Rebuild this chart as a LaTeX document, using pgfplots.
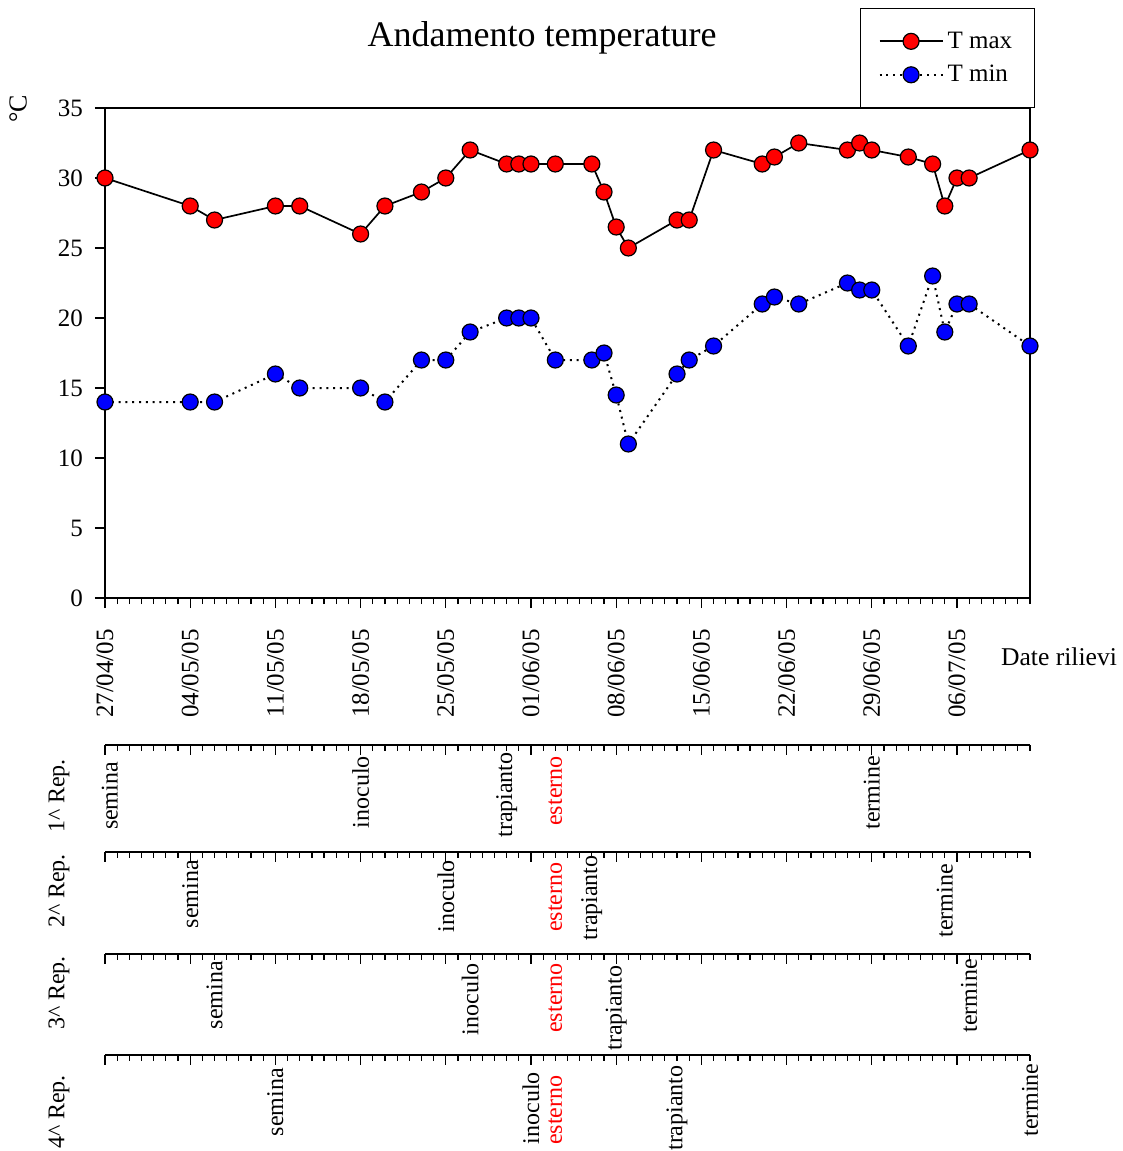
\documentclass[border=0pt]{standalone}
\usepackage{fontspec}
\setmainfont{Liberation Serif}
\usepackage{pgfplots}
\usepackage{pgfplotstable}
\pgfplotsset{compat=1.18}
\newcommand{\fs}[1]{\fontsize{#1}{#1}\selectfont}

\pgfplotstableread{
x y
0 30
7 28
9 27
14 28
16 28
21 26
23 28
26 29
28 30
30 32
33 31
34 31
35 31
37 31
40 31
41 29
42 26.5
43 25
47 27
48 27
50 32
54 31
55 31.5
57 32.5
61 32
62 32.5
63 32
66 31.5
68 31
69 28
70 30
71 30
76 32
}\tmax

\pgfplotstableread{
x y
0 14
7 14
9 14
14 16
16 15
21 15
23 14
26 17
28 17
30 19
33 20
34 20
35 20
37 17
40 17
41 17.5
42 14.5
43 11
47 16
48 17
50 18
54 21
55 21.5
57 21
61 22.5
62 22
63 22
66 18
68 23
69 19
70 21
71 21
76 18
}\tmin

\pgfplotstableread{
x y lab
0.4 -51 semina
21 -47 inoculo
33 -50 trapianto
63 -48 termine
}\repA
\pgfplotstableread{
x y lab
7 -42 semina
28 -44 inoculo
40 -46 trapianto
69 -49 termine
}\repB
\pgfplotstableread{
x y lab
9 -41 semina
30 -45 inoculo
42 -54 trapianto
71 -42 termine
}\repC
\pgfplotstableread{
x y lab
14 -47 semina
35 -53 inoculo
47 -53 trapianto
76 -45 termine
}\repD

\begin{document}
\begin{tikzpicture}
\path[use as bounding box] (0,0) rectangle (561.5pt,-575.5pt);
\pgfplotsset{
  stripaxis/.style={
    scale only axis, width=462.5pt, height=50pt,
    xmin=0, xmax=76, ymin=-100, ymax=0,
    axis x line*=top, axis y line=none,
    xtick pos=right,
    xtick={0,7,...,70}, minor xtick={0,1,...,76},
    xticklabels={}, tick align=inside,
    major tick length=5pt, minor tick length=3pt,
    tick style={black, line width=0.6pt},
    axis line style={-, line width=0.75pt},
    clip=false,
  },
  lab/.style={draw=none, mark=none, nodes near coords, point meta=explicit symbolic,
    nodes near coords style={anchor=center, rotate=90, font=\fs{12}, text=#1}},
}

% main axis
\begin{axis}[
  at={(52.5pt,-299pt)}, anchor=south west,
  scale only axis, width=462.5pt, height=245pt,
  xmin=0, xmax=76, ymin=0, ymax=35,
  xtick={0,7,...,70},
  xticklabels={27/04/05,04/05/05,11/05/05,18/05/05,25/05/05,01/06/05,08/06/05,15/06/05,22/06/05,29/06/05,06/07/05},
  minor xtick={0,1,...,76},
  ytick={0,5,...,35},
  xtick pos=left, ytick pos=left,
  tick align=outside,
  major tick length=5pt, minor tick length=3pt,
  tick style={black, line width=0.6pt},
  axis line style={line width=0.9pt},
  /pgf/number format/assume math mode=true,
  xticklabel style={font=\fs{12.5}, yshift=-7pt, rotate=90, anchor=east},
  yticklabel style={font=\fs{12.5}, xshift=-2.5pt},
  clip=false,
  legend style={at={(0.8162,1.204)}, anchor=north west, draw=black, line width=0.6pt,
    font=\fs{12.5}, inner xsep=9pt, inner ysep=9.5pt, row sep=3pt,
    /tikz/every even column/.append style={column sep=4pt}},
  legend cell align=left,
  legend image code/.code={\draw[mark repeat=2, mark phase=2, #1] plot coordinates {(0pt,0pt) (15.75pt,0pt) (31.5pt,0pt)};},
]
\addplot[black, line width=0.85pt, mark=*, mark size=4pt,
  mark options={fill=red, draw=black, line width=0.6pt, solid}] table[x=x, y=y] {\tmax};
\addlegendentry{T max}
\addplot[black, line width=1pt, dash pattern=on 1pt off 2.4pt, mark=*, mark size=4pt,
  mark options={fill=blue, draw=black, line width=0.6pt, solid}] table[x=x, y=y] {\tmin};
\addlegendentry{T min}
\end{axis}

\node[font=\fs{18}] at (271pt,-19pt) {Andamento temperature};
\node[font=\fs{12.8}, anchor=west] at (497pt,-328.5pt) {Date rilievi};
\node[font=\fs{13}, rotate=90] at (9pt,-54.5pt) {°C};

% strips
\begin{axis}[stripaxis, at={(52.5pt,-372.5pt)}, anchor=north west]
\addplot[lab=black] table[x=x, y=y, meta=lab] {\repA};
\addplot[lab=red] coordinates {(37,-46) [esterno]};
\end{axis}
\begin{axis}[stripaxis, at={(52.5pt,-426pt)}, anchor=north west]
\addplot[lab=black] table[x=x, y=y, meta=lab] {\repB};
\addplot[lab=red] coordinates {(37,-45) [esterno]};
\end{axis}
\begin{axis}[stripaxis, at={(52.5pt,-477pt)}, anchor=north west]
\addplot[lab=black] table[x=x, y=y, meta=lab] {\repC};
\addplot[lab=red] coordinates {(37,-44) [esterno]};
\end{axis}
\begin{axis}[stripaxis, at={(52.5pt,-527.5pt)}, anchor=north west]
\addplot[lab=black] table[x=x, y=y, meta=lab] {\repD};
\addplot[lab=red] coordinates {(37,-55) [esterno]};
\end{axis}

\node[font=\fs{12}, rotate=90] at (29.5pt,-398pt) {1\textasciicircum{} Rep.};
\node[font=\fs{12}, rotate=90] at (29.5pt,-445.5pt) {2\textasciicircum{} Rep.};
\node[font=\fs{12}, rotate=90] at (29.5pt,-496.5pt) {3\textasciicircum{} Rep.};
\node[font=\fs{12}, rotate=90] at (29.5pt,-556pt) {4\textasciicircum{} Rep.};
\end{tikzpicture}
\end{document}
